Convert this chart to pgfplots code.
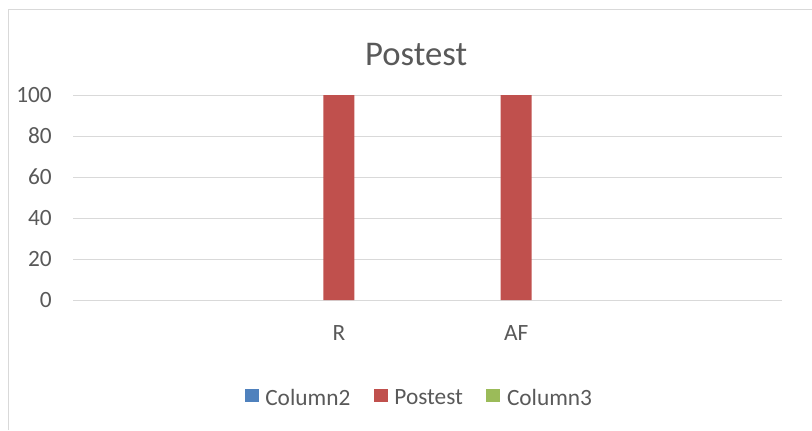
\documentclass[border=0pt]{standalone}
\usepackage{pgfplots}
\pgfplotsset{compat=1.18}
\usepackage{fontspec}
\setmainfont{Carlito}
\definecolor{txt}{HTML}{595959}
\definecolor{gridc}{HTML}{D9D9D9}
\definecolor{cblue}{HTML}{4F81BD}
\definecolor{cred}{HTML}{C0504D}
\definecolor{cgreen}{HTML}{9BBB59}
\pgfplotsset{sq/.style={legend image code/.code={\fill[##1] (0pt,-2.7pt) rectangle (10.5pt,7.05pt); \path (13.5pt,0pt);}}}
\begin{document}
\begin{tikzpicture}
\useasboundingbox (0,0) rectangle (609pt,322.5pt);
\draw[gridc, line width=0.75pt] (6pt,0) -- (6pt,315.75pt) -- (609pt,315.75pt);
\begin{axis}[
  at={(54.75pt,97.5pt)}, anchor=south west,
  scale only axis, width=531.75pt, height=153.75pt,
  xmin=-0.5, xmax=3.5, ymin=0, ymax=100,
  xtick={0,1,2,3}, xticklabels={,R,AF,},
  ytick={0,20,40,60,80,100},
  ymajorgrids, grid style={gridc, line width=0.75pt},
  axis line style={draw=none}, major tick length=0pt, tick style={draw=none},
  ybar, bar width=23.25pt,
  ticklabel style={font=\fontsize{17.5}{20}\selectfont, text=txt},
  /pgf/number format/assume math mode=true,
  yticklabel style={anchor=east, inner sep=0pt, xshift=-15.75pt},
  xticklabel style={anchor=base, inner sep=0pt, yshift=-30pt},
  title=Postest, every axis title shift=0pt,
  title style={at={(0.484,1.1415)}, anchor=base, font=\fontsize{26}{30}\selectfont, text=txt},
  legend style={at={(0.489,-0.478)}, anchor=center, draw=none, fill=none,
    font=\fontsize{17.5}{20}\selectfont, text=txt,
    /tikz/every even column/.append style={column sep=15.5pt}},
  legend columns=3,
]
\addlegendimage{sq, fill=cblue, draw=none}
\addlegendentry{Column2}
\addplot[sq, fill=cred, draw=none] coordinates {(1,100) (2,100)};
\addlegendentry{Postest}
\addlegendimage{sq, fill=cgreen, draw=none}
\addlegendentry{Column3}
\end{axis}
\end{tikzpicture}
\end{document}
